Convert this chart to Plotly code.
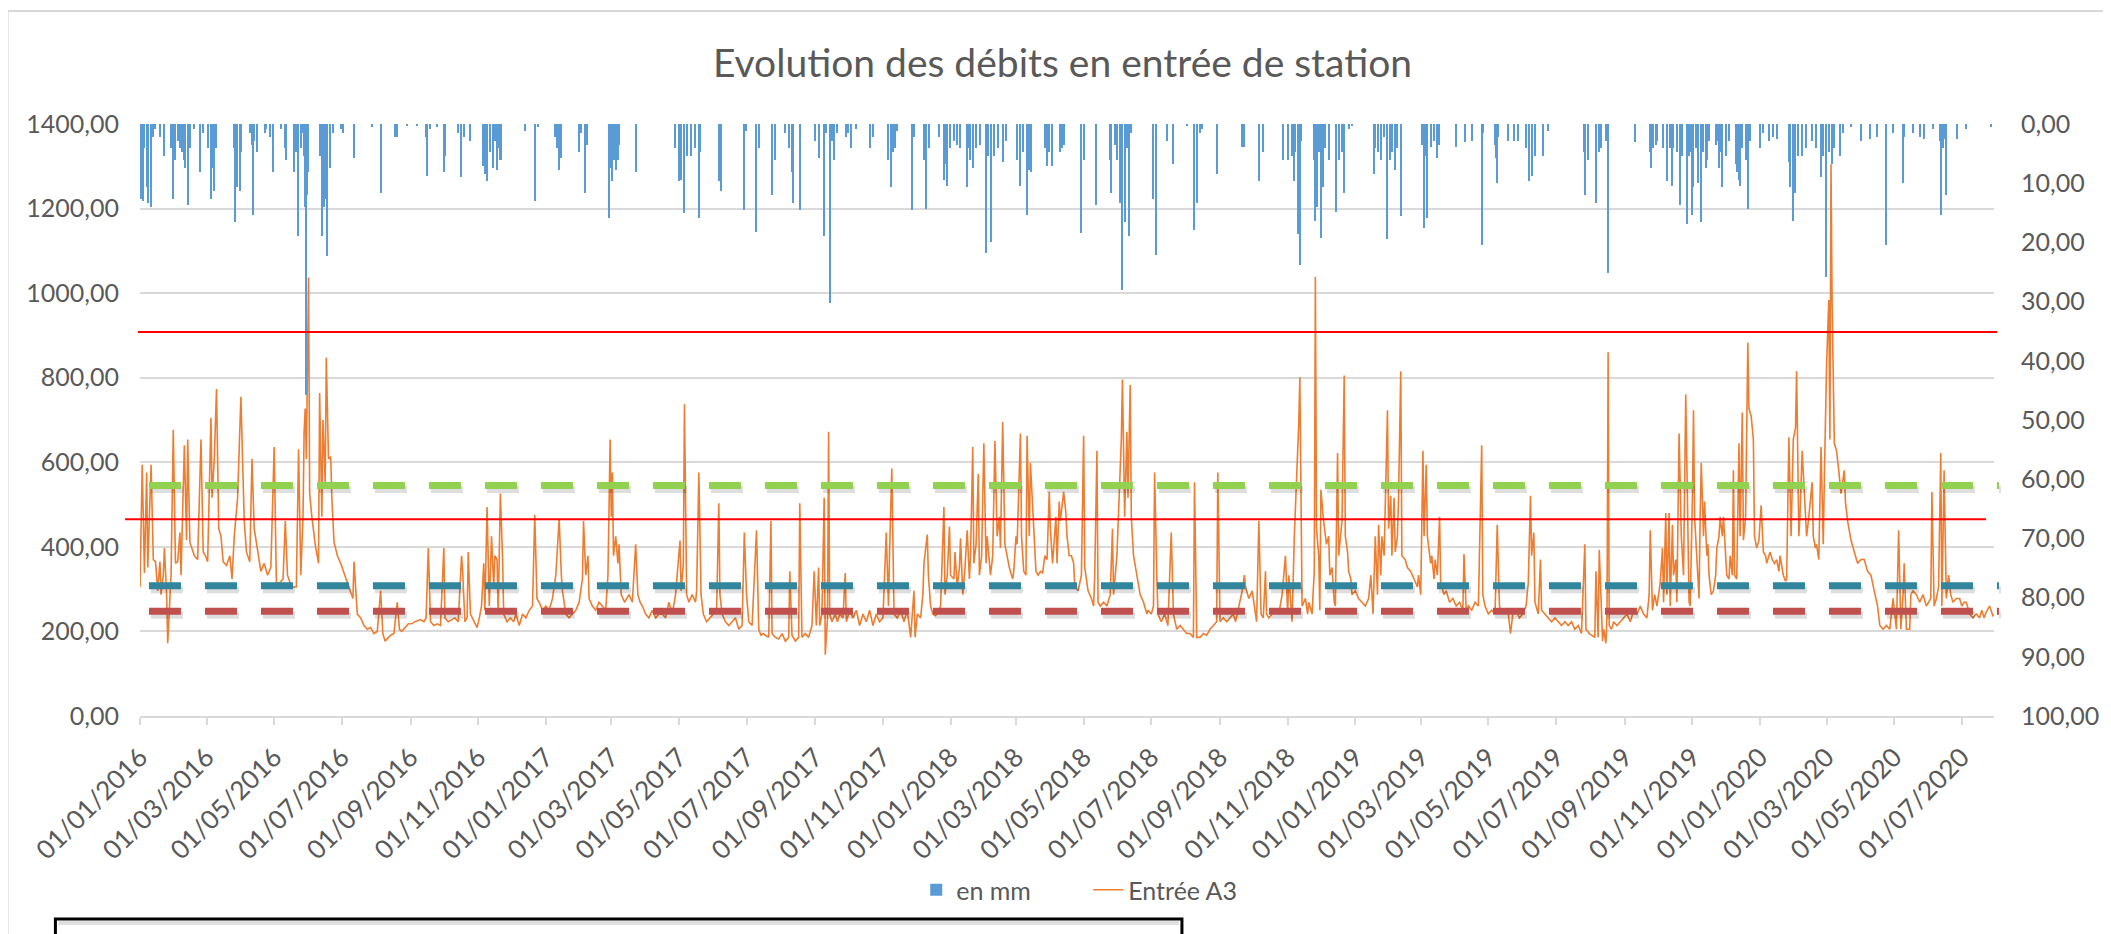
import pandas as pd
import plotly.graph_objects as go

START = "2016-01-01"
END = "2020-07-30"

# Débit "Entrée A3" : (jour depuis le 01/01/2016, valeur)
flow_points = [
(0,305),(2,594),(4,338),(6,576),(7,351),(10,594),(12,370),(14,365),(16,296),(18,365),(19,287),(21,333),(22,397),(24,287),(25,172),(27,287),(28,333),(30,677),(32,361),(34,365),(36,434),(37,333),(40,640),(42,416),(43,654),(45,411),(47,393),(49,379),(52,370),(55,654),(57,388),(59,379),(61,365),(64,705),(65,516),(67,608),(69,773),(71,443),(73,425),(75,365),(78,356),(81,379),(83,324),(85,425),(88,516),(91,755),(94,461),(96,388),(99,365),(101,608),(103,443),(106,397),(109,342),(112,361),(115,333),(118,351),(121,636),(123,315),(126,315),(129,324),(131,461),(133,333),(136,310),(138,305),(141,305),(143,631),(145,333),(147,471),(148,672),(149,727),(150,608),(152,1037),(153,526),(155,471),(158,406),(161,361),(162,764),(164,471),(165,700),(167,553),(168,847),(170,608),(172,613),(173,516),(175,411),(178,379),(181,361),(184,338),(187,315),(190,296),(192,278),(193,365),(195,278),(196,241),(199,232),(202,214),(205,205),(208,209),(211,195),(214,200),(217,296),(219,195),(221,177),(223,182),(226,191),(229,195),(232,269),(234,205),(236,200),(239,209),(242,218),(245,218),(248,223),(253,228),(256,223),(258,232),(260,397),(262,223),(265,214),(268,218),(271,214),(274,397),
(275,232),(278,223),(281,228),(284,232),(287,223),(290,379),(291,342),(293,223),(295,232),(296,388),(298,241),(301,223),(304,209),(306,232),(308,260),(310,361),(311,250),(313,494),(315,260),(317,425),(319,305),(320,379),(322,370),(323,241),(325,526),(327,370),(328,241),(331,223),(334,232),(337,223),(339,241),(342,214),(345,241),(348,232),(351,250),(354,260),(356,475),(358,278),(360,269),(363,250),(366,260),(369,250),(372,278),(375,333),(378,466),(380,333),(381,296),(384,241),(387,232),(390,241),(393,250),(396,269),(399,324),(400,461),(402,333),(404,379),(405,278),(408,260),(411,250),(414,269),(417,260),(420,250),(422,333),(424,654),(425,471),(426,576),(427,379),(429,425),(431,361),(432,406),(434,287),(437,269),(439,278),(441,287),(444,269),(447,406),(449,287),(451,269),(453,260),(456,241),(459,232),(462,250),(465,232),(468,241),(471,241),(474,232),(477,269),(480,241),(483,287),(485,361),(487,415),(488,296),(490,361),(491,737),(493,287),(495,269),(498,287),(501,269),(502,296),(504,576),(506,287),(508,241),(511,223),(514,232),(517,241),(520,250),(522,503),(523,287),(525,241),(528,223),(531,214),(534,223),(537,232),(540,205),(543,214),(545,434),(547,287),(549,223),(552,214),(556,439),(558,205),(560,191),
(562,195),(564,191),(567,186),(569,461),(570,195),(573,186),(576,182),(579,195),(582,177),(585,186),(586,342),(588,191),(591,177),(594,186),(595,503),(597,186),(600,195),(603,186),(606,214),(608,342),(610,214),(612,351),(613,214),(615,241),(617,516),(618,145),(620,232),(621,672),(622,241),(624,223),(627,241),(629,223),(631,241),(634,232),(636,338),(637,223),(640,250),(643,232),(646,250),(649,214),(652,241),(655,223),(658,250),(661,214),(664,241),(667,223),(670,232),(673,434),(675,260),(676,388),(678,585),(680,241),(683,232),(686,250),(689,223),(692,250),(695,186),(698,296),(699,186),(701,241),(704,232),(706,287),(707,361),(710,429),(711,333),(713,260),(715,241),(717,237),(719,241),(722,260),(725,494),(726,287),(728,333),(730,448),(731,333),(734,324),(735,388),(737,305),(739,351),(740,420),(742,287),(744,351),(746,439),(748,324),(749,379),(751,636),(752,361),(754,406),(756,572),(757,333),(759,379),(761,645),(763,361),(764,425),(767,333),(769,379),(771,650),(773,425),(775,471),(776,397),(778,695),(780,406),(782,379),(784,351),(787,324),(788,342),(790,425),(791,406),(794,668),(795,425),(797,342),(799,333),(800,663),(802,425),(803,599),(806,443),(808,342),(810,333),(812,342),(814,338),(816,379),(818,370),(820,530),(821,443),(823,361),(826,471),(827,361),(829,507),(830,461),(832,507),(833,530),(835,480),(836,425),(838,379),
(840,379),(842,361),(843,305),(846,296),(849,333),(851,663),(852,351),(855,296),(858,278),(860,260),(861,333),(863,627),(864,269),(866,260),(869,269),(872,260),(875,287),(877,443),(878,287),(881,379),(883,516),(885,654),(886,796),(887,608),(888,471),(890,672),(891,516),(893,783),(894,471),(896,379),(899,333),(902,287),(905,269),(908,241),(909,250),(912,241),(914,260),(915,576),(917,333),(918,241),(921,223),(924,241),(927,214),(930,434),(932,241),(935,205),(938,214),(941,205),(944,195),(947,195),(950,186),(951,553),(953,186),(956,186),(959,195),(962,191),(965,205),(968,214),(971,223),(972,576),(974,223),(977,232),(980,223),(983,232),(986,241),(988,223),(991,260),(994,296),(996,333),(997,305),(1000,278),(1003,296),(1005,260),(1007,223),(1009,461),(1011,241),(1013,232),(1015,342),(1016,241),(1018,232),(1021,241),(1024,250),(1027,241),(1030,287),(1033,379),(1035,241),(1036,333),(1039,223),(1041,425),(1043,553),(1045,691),(1046,801),(1047,516),(1048,260),(1051,278),(1053,241),(1054,269),(1056,250),(1057,241),(1059,342),(1060,1039),(1061,443),(1063,379),(1064,250),(1065,535),(1067,471),(1068,443),(1070,406),(1072,425),(1073,333),(1075,351),(1077,269),(1078,260),(1080,622),(1081,379),(1083,425),(1084,461),(1086,805),(1087,425),(1089,388),(1090,342),(1092,324),(1093,287),(1096,296),(1099,278),(1102,269),(1105,260),(1108,278),
(1110,333),(1112,241),(1114,425),(1116,287),(1117,452),(1119,333),(1120,425),(1122,379),(1123,526),(1125,723),(1126,443),(1128,521),(1129,379),(1131,516),(1132,388),(1134,425),(1135,516),(1137,815),(1138,379),(1141,370),(1143,351),(1146,342),(1149,324),(1152,305),(1153,333),(1155,287),(1157,627),(1158,425),(1160,594),(1161,425),(1164,361),(1165,379),(1167,324),(1168,370),(1170,333),(1172,471),(1173,315),(1176,287),(1178,296),(1181,269),(1184,278),(1187,260),(1190,269),(1193,250),(1194,383),(1196,250),(1198,260),(1201,250),(1204,269),(1207,260),(1210,640),(1211,287),(1213,260),(1216,241),(1219,250),(1222,241),(1224,452),(1226,260),(1228,241),(1231,250),(1234,241),(1236,195),(1238,241),(1241,250),(1244,232),(1247,241),(1250,260),(1252,315),(1254,521),(1255,379),(1257,434),(1258,269),(1261,241),(1263,370),(1264,250),(1267,241),(1270,232),(1273,223),(1276,232),(1279,223),(1282,214),(1285,223),(1288,214),(1291,223),(1294,205),(1297,214),(1300,195),(1303,406),(1304,205),(1307,195),(1309,191),(1312,186),(1313,342),(1315,186),(1316,393),(1318,241),(1319,177),(1320,205),(1322,172),(1323,241),(1324,860),(1325,214),(1327,205),(1329,223),(1332,214),(1335,223),(1338,232),(1341,241),(1344,223),(1347,250),(1350,241),(1353,260),(1356,241),(1359,232),(1361,287),(1362,439),(1364,250),(1366,287),(1368,260),(1371,315),(1373,397),(1374,269),(1376,480),(1377,287),(1379,480),(1380,260),(1382,452),(1383,333),(1385,370),(1386,269),(1388,668),(1390,425),(1392,333),(1394,760),
(1397,269),(1398,260),(1400,516),(1401,723),(1402,471),(1404,379),(1406,278),(1407,471),(1408,599),(1410,425),(1411,507),(1413,379),(1414,406),(1415,333),(1417,287),(1419,296),(1421,333),(1422,397),(1424,425),(1425,471),(1427,425),(1428,471),(1430,379),(1431,333),(1433,324),(1434,379),(1436,333),(1437,581),(1438,333),(1440,324),(1442,645),(1443,425),(1445,718),(1446,416),(1448,471),(1450,883),(1451,727),(1453,709),(1455,654),(1456,425),(1458,397),(1460,416),(1462,498),(1464,388),(1466,379),(1467,361),(1470,388),(1472,370),(1474,361),(1476,370),(1478,342),(1479,379),(1482,333),(1484,319),(1485,324),(1487,659),(1489,425),(1491,654),(1493,682),(1494,815),(1496,425),(1497,471),(1499,627),(1501,526),(1503,425),(1505,471),(1508,553),(1509,425),(1511,397),(1512,406),(1514,370),(1516,636),(1518,406),(1519,562),(1521,828),(1523,984),(1524,654),(1525,1305),(1526,975),(1528,645),(1530,627),(1532,581),(1534,526),(1537,581),(1538,507),(1540,461),(1543,416),(1546,388),(1549,361),(1552,370),(1555,370),(1558,342),(1561,333),(1564,296),(1567,260),(1569,214),(1572,205),(1575,214),(1578,205),(1581,278),(1584,205),(1586,439),(1588,205),(1590,287),(1591,361),(1593,205),(1596,205),(1597,287),(1599,296),(1602,287),(1605,269),(1608,287),(1611,260),(1613,269),(1615,278),(1616,530),(1618,260),(1620,278),(1622,305),(1624,622),(1625,260),(1627,581),(1629,278),(1631,333),(1633,287),(1635,269),(1638,278),(1641,278),(1643,260),(1645,269),(1647,269),(1650,241),(1653,232),(1656,241),(1659,232),(1661,250),(1663,232),(1665,246),(1668,260),(1671,237),(1673,241),
]

# Pluie "en mm" : (jour depuis le 01/01/2016, mm)
rain_points = [
(1,12.6),(3,13.0),(4,4.1),(6,10.7),(7,13.3),(10,14.0),(12,2.2),(14,0.9),(18,2.2),(22,5.4),(28,4.1),(30,12.6),(32,6.1),(34,2.8),(36,4.1),(38,4.8),(40,6.1),(41,7.4),(43,13.6),(45,4.1),(49,0.9),(54,8.1),(57,1.5),(61,4.1),(64,12.6),(65,7.4),(67,11.3),(69,4.1),(85,4.1),(86,16.6),(88,10.7),(90,11.3),(91,4.8),(99,1.5),(101,3.5),(102,15.3),(103,2.8),(106,4.8),(113,1.5),(114,0.9),(117,2.2),(120,8.1),(127,0.9),(131,4.1),(132,6.1),(139,8.1),(141,4.8),(143,18.9),(145,4.1),(147,1.5),(148,5.4),(149,14.0),(150,45.7),(151,12.0),(152,8.1),(162,5.4),(164,18.9),(165,8.1),(166,14.0),(167,12.6),(169,22.3),(171,7.4),(174,1.5),(181,0.9),(183,1.5),(193,5.8),(209,0.5),(217,11.7),(230,2.2),(232,2.2),(241,0.2),(250,0.2),(258,2.2),(259,8.7),(262,0.9),(268,0.5),(274,8.1),(275,5.4),
(287,1.5),(290,9.0),(292,2.2),(298,2.8),(309,7.1),(311,8.4),(313,9.7),(316,4.8),(318,7.4),(320,2.8),(322,7.7),(323,4.1),(325,6.1),(326,6.1),(347,1.2),(356,13.0),(359,0.5),(374,2.2),(376,4.1),(378,7.7),(380,5.8),(396,4.8),(398,1.5),(401,11.7),(403,3.5),(423,15.9),(425,7.4),(426,9.7),(428,6.1),(429,7.7),(431,6.1),(432,3.5),(447,8.1),(483,4.1),(486,9.7),(488,9.4),(491,15.0),(493,5.4),(497,5.4),(501,4.1),(504,15.9),(505,4.8),(522,9.7),(523,5.8),(524,11.3),(545,14.6),(547,1.2),(556,18.2),(558,4.1),
(570,12.0),(573,6.1),(582,1.5),(585,4.1),(588,8.1),(589,13.3),(595,14.6),(609,2.8),(612,5.8),(617,18.9),(619,1.5),(622,30.3),(624,2.8),(626,6.1),(629,1.5),(637,2.2),(639,1.5),(641,4.1),(646,0.9),(658,4.1),(661,2.2),(675,6.1),(677,10.7),(679,4.8),(681,4.1),(683,1.2),(696,14.6),(698,2.2),(707,6.1),(709,14.3),(712,4.1),(721,2.2),(725,9.4),(727,6.7),(728,10.4),(731,4.1),(734,2.8),(737,3.5),(740,4.1),(746,10.7),(748,4.1),(749,6.1),(751,7.4),(754,4.1),(758,3.5),(763,21.8),(765,5.4),(768,19.9),(770,5.4),(774,4.1),(778,6.4),(781,2.8),(791,6.1),(794,10.4),(796,4.8),(800,15.3),(802,7.7),(804,8.1),(816,4.1),(818,7.1),(820,4.8),(823,7.1),(830,4.8),(832,4.1),(833,3.5),
(849,18.4),(851,6.1),(862,13.6),(875,6.1),(876,11.7),(879,3.5),(881,6.1),(884,13.3),(886,28.0),(888,16.6),(890,4.1),(892,18.9),(894,1.5),(914,12.6),(916,22.1),(926,2.8),(932,6.7),(944,0.2),(951,17.9),(953,13.3),(956,1.5),(958,0.9),(971,8.4),(994,3.8),(996,3.8),(1009,9.7),(1013,4.8),(1031,6.1),(1035,6.1),(1039,5.4),(1041,9.7),(1042,4.8),(1044,18.5),(1046,23.8),(1047,2.8),(1059,6.1),(1060,16.3),(1062,14.0),(1063,4.8),(1065,19.2),(1067,10.7),(1069,4.1),(1072,6.1),(1079,14.9),(1081,6.1),(1084,4.8),(1086,11.7),(1090,0.9),(1093,0.2),
(1113,8.4),(1114,4.1),(1117,4.8),(1119,6.1),(1122,2.2),(1125,19.5),(1127,6.1),(1129,4.8),(1132,7.7),(1134,4.1),(1137,15.6),(1156,3.5),(1158,17.6),(1160,5.4),(1161,15.9),(1164,3.8),(1167,2.8),(1170,5.8),(1172,3.5),(1187,3.8),(1195,3.1),(1201,2.8),(1210,20.5),(1211,1.5),(1222,3.5),(1223,5.8),(1224,10.0),(1225,2.2),(1234,2.8),(1239,2.8),(1243,2.8),(1250,4.1),(1253,9.7),(1255,8.7),(1258,5.4),(1265,5.4),(1270,1.2),(1302,4.8),(1303,12.0),(1306,6.1),(1313,13.3),(1316,4.8),(1318,4.1),(1322,2.8),(1324,25.1),(1348,3.1),(1362,4.8),(1363,7.4),(1365,4.1),(1367,3.5),(1368,2.8),(1374,4.1),(1377,9.7),(1380,4.1),(1382,10.4),(1383,4.1),(1386,4.8),(1389,13.6),(1391,5.4),
(1395,16.9),(1397,5.4),(1398,4.8),(1400,15.3),(1401,10.7),(1403,4.1),(1405,10.0),(1408,16.6),(1410,4.8),(1412,7.4),(1413,6.1),(1415,2.8),(1421,3.5),(1422,2.8),(1424,7.4),(1425,4.8),(1427,10.7),(1430,5.4),(1433,2.8),(1439,6.7),(1440,8.1),(1442,9.4),(1443,10.4),(1445,4.1),(1448,6.1),(1450,14.3),(1452,2.8),(1461,4.1),(1464,1.5),(1469,2.8),(1473,2.2),(1476,2.5),(1487,6.4),(1488,10.7),(1491,16.3),(1493,11.7),(1495,5.4),(1499,5.4),(1503,4.1),(1508,2.8),(1512,4.1),(1516,9.0),(1518,5.4),(1521,25.8),(1523,4.8),(1526,6.7),(1528,4.1),(1533,5.4),(1536,1.5),(1543,0.5),(1552,2.8),(1560,2.5),(1567,2.2),(1575,20.5),(1581,1.5),(1590,10.0),(1591,2.2),(1599,1.5),(1605,2.2),(1609,2.5),(1617,0.9),(1623,2.8),(1624,15.3),(1626,4.1),(1628,2.5),(1629,12.0),(1639,2.5),(1647,0.9),(1669,0.5),
]

left_ticks = [0, 200, 400, 600, 800, 1000, 1200, 1400]
right_ticks = [0, 10, 20, 30, 40, 50, 60, 70, 80, 90, 100]
tick_dates = pd.date_range("2016-01-01", "2020-07-01", freq="2MS")
tick_labels = [d.strftime("%d/%m/%Y") for d in tick_dates]

dashed_levels = [545, 308, 248]
dashed_colors = ["#92D050", "#31859C", "#C0504D"]
red_levels = [908, 465]

start = pd.Timestamp(START)
flow_days = [p[0] for p in flow_points]
flow_vals = [p[1] for p in flow_points]
rain_days = [p[0] for p in rain_points]
rain_vals = [p[1] for p in rain_points]
flow_dates = start + pd.to_timedelta(flow_days, unit="D")
rain_dates = start + pd.to_timedelta(rain_days, unit="D")

GREY = "#595959"
FONT = "Lato"

fig = go.Figure()
fig.add_trace(go.Bar(
    x=rain_dates, y=rain_vals, name="en mm", yaxis="y2",
    marker=dict(color="#5B9BD5", line=dict(width=0)),
    width=86400000 * 1.1,
))
fig.add_trace(go.Scatter(
    x=flow_dates, y=flow_vals, name="Entrée A3", mode="lines",
    line=dict(color="#ED7D31", width=1.6),
))

# The page body has an 8px margin: the figure is made 8px smaller and
# every reference pixel position is shifted by that amount.
OFF = 8
W, H = 2111 - OFF, 934 - OFF
L = 140 - OFF          # plot left (ref px 140)
T = 124 - OFF          # plot top (ref px 124)
R = W - (2003 - OFF)   # plot right (ref px 2003)
B = H - (716 - OFF)    # plot bottom (ref px 716)
pw = W - L - R
ph = H - T - B

def px_x(p):
    return (p - OFF - L) / pw

def px_y(p):
    return (H - B - (p - OFF)) / ph

shapes = []
# outer chart border
shapes.append(dict(type="rect", xref="paper", yref="paper",
                   x0=px_x(7), x1=px_x(2140), y0=px_y(11), y1=px_y(960),
                   line=dict(color="#D9D9D9", width=2), fillcolor="rgba(0,0,0,0)", layer="below"))

# dashed thresholds with soft shadow
for lvl, col in zip(dashed_levels, dashed_colors):
    off = 4 * 1400 / ph
    shapes.append(dict(type="line", xref="paper", yref="y",
                       x0=px_x(151), x1=px_x(2010), y0=lvl - off, y1=lvl - off,
                       line=dict(color="rgba(0,0,0,0.13)", width=7, dash="32px,24px")))
    shapes.append(dict(type="line", xref="paper", yref="y",
                       x0=px_x(149), x1=px_x(2008), y0=lvl, y1=lvl,
                       line=dict(color=col, width=7, dash="32px,24px")))

# red solid lines
shapes.append(dict(type="line", xref="paper", yref="y", x0=px_x(138), x1=px_x(2006),
                   y0=red_levels[0], y1=red_levels[0], line=dict(color="#FF0000", width=2)))
shapes.append(dict(type="line", xref="paper", yref="y", x0=px_x(125), x1=px_x(1995),
                   y0=red_levels[1], y1=red_levels[1], line=dict(color="#FF0000", width=2)))

# text box at bottom
shapes.append(dict(type="rect", xref="paper", yref="paper",
                   x0=px_x(55), x1=px_x(1187), y0=px_y(919), y1=px_y(970),
                   line=dict(color="#000000", width=3), fillcolor="#FFFFFF"))
shapes.append(dict(type="line", xref="paper", yref="paper",
                   x0=px_x(58), x1=px_x(1184), y0=px_y(923), y1=px_y(923),
                   line=dict(color="rgba(0,0,0,0.12)", width=4)))

fig.update_layout(
    width=W, height=H, autosize=False,
    margin=dict(l=L, r=R, t=T, b=B, pad=0),
    paper_bgcolor="white", plot_bgcolor="white",
    separators=",.",
    font=dict(family=FONT, color=GREY, size=25),
    title=dict(text="Evolution des débits en entrée de station",
               x=px_x(1067), xref="paper", xanchor="center",
               y=1 - (63 - OFF) / H, yref="container", yanchor="middle",
               font=dict(family=FONT, size=39, color=GREY)),
    showlegend=True,
    legend=dict(orientation="h", x=px_x(920), xanchor="left", y=px_y(890), yanchor="middle",
                font=dict(family=FONT, size=25, color=GREY), bgcolor="rgba(0,0,0,0)",
                traceorder="normal", entrywidth=127, entrywidthmode="pixels"),
    bargap=0,
    xaxis=dict(type="date", range=[START, END], tickvals=tick_dates, ticktext=tick_labels,
               tickangle=-45, ticks="outside", ticklen=7, tickwidth=1.5, tickcolor="#D9D9D9",
               showline=True, linecolor="#D9D9D9", linewidth=1.5, showgrid=False, zeroline=False,
               ticklabelstandoff=7,
               tickfont=dict(family=FONT, size=26, color=GREY)),
    yaxis=dict(range=[0, 1400], tickvals=left_ticks, tickformat=".2f",
               showgrid=True, gridcolor="#D9D9D9", gridwidth=1.5, zeroline=False,
               showline=False, ticks="", ticklabelstandoff=20,
               tickfont=dict(family=FONT, size=25, color=GREY)),
    yaxis2=dict(range=[100, 0], overlaying="y", side="right", tickvals=right_ticks,
                tickformat=".2f", showgrid=False, zeroline=False, showline=False, ticks="",
                ticklabelstandoff=26, tickfont=dict(family=FONT, size=25, color=GREY)),
    shapes=shapes,
)

fig.write_html("out.html")
